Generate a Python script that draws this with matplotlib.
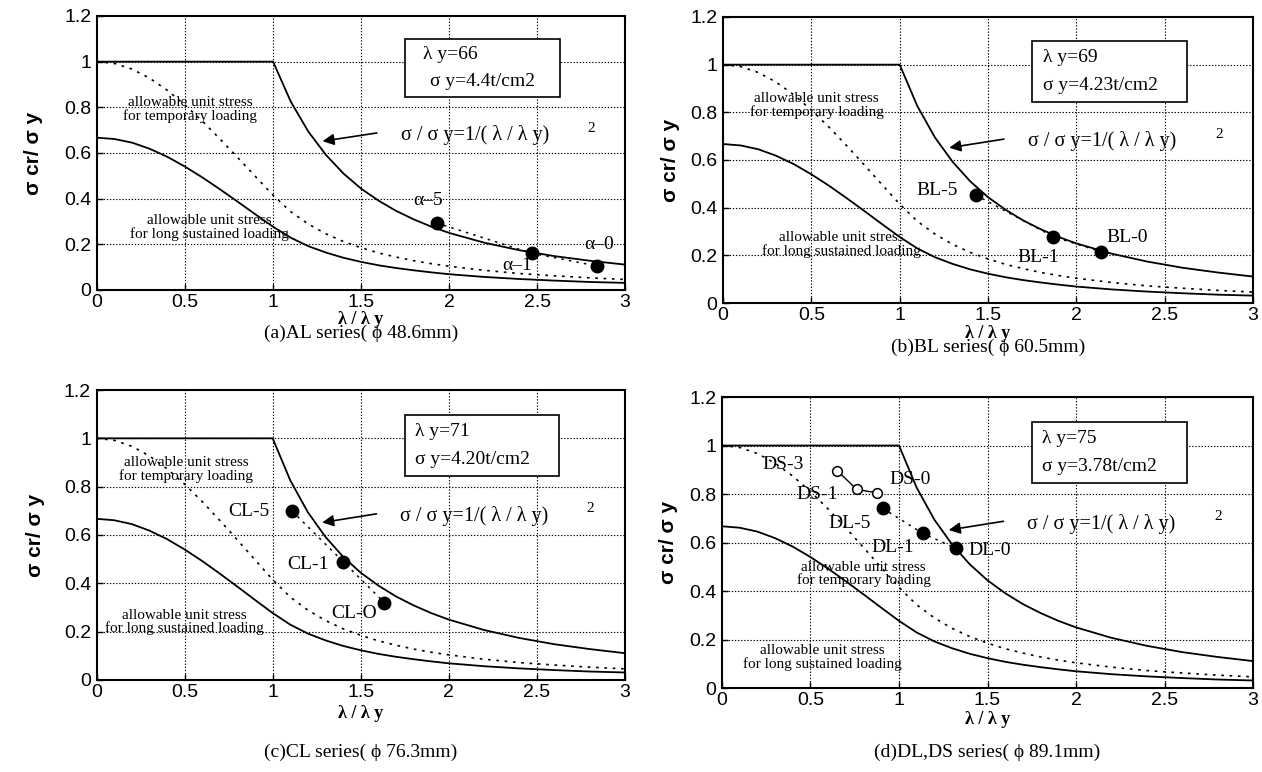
import matplotlib
matplotlib.use("Agg")
import matplotlib.pyplot as plt
from matplotlib.patches import Rectangle

# normalised slenderness λ/λy where the design curves were read
lam = [0.0, 0.1, 0.2, 0.3, 0.4, 0.5, 0.6, 0.7, 0.8, 0.9, 1.0,
       1.1, 1.2, 1.3, 1.4, 1.5, 1.6, 1.7, 1.8, 1.9, 2.0,
       2.2, 2.4, 2.6, 2.8, 3.0]
# Euler curve σ/σy = 1/(λ/λy)^2, capped at 1
euler = [1.0, 1.0, 1.0, 1.0, 1.0, 1.0, 1.0, 1.0, 1.0, 1.0, 1.0,
         0.826, 0.694, 0.592, 0.510, 0.444, 0.391, 0.346, 0.309, 0.277, 0.250,
         0.207, 0.174, 0.148, 0.128, 0.111]
# allowable unit stress, temporary loading (dashed)
temporary = [1.000, 0.992, 0.967, 0.927, 0.874, 0.810, 0.738, 0.660, 0.579, 0.497, 0.415,
             0.343, 0.289, 0.246, 0.212, 0.185, 0.162, 0.144, 0.128, 0.115, 0.104,
             0.086, 0.072, 0.062, 0.053, 0.046]
# allowable unit stress, long sustained loading (solid)
sustained = [0.667, 0.661, 0.645, 0.618, 0.583, 0.540, 0.492, 0.440, 0.386, 0.331, 0.277,
             0.229, 0.192, 0.164, 0.141, 0.123, 0.108, 0.096, 0.086, 0.077, 0.069,
             0.057, 0.048, 0.041, 0.035, 0.031]

# test results
al_names = ["α–5", "α–1", "α–0"]
al_x = [1.93, 2.47, 2.84]
al_y = [0.293, 0.161, 0.105]

bl_names = ["BL-5", "BL-1", "BL-0"]
bl_x = [1.43, 1.87, 2.14]
bl_y = [0.453, 0.278, 0.215]

cl_names = ["CL-5", "CL-1", "CL-O"]
cl_x = [1.11, 1.40, 1.635]
cl_y = [0.699, 0.490, 0.320]

dl_names = ["DL-5", "DL-1", "DL-0"]
dl_x = [0.908, 1.134, 1.322]
dl_y = [0.741, 0.638, 0.576]

ds_names = ["DS-3", "DS-1", "DS-0"]
ds_x = [0.652, 0.761, 0.874]
ds_y = [0.896, 0.819, 0.805]

lam_y = ["66", "69", "71", "75"]
sig_y = ["4.4", "4.23", "4.20", "3.78"]
captions = ["(a)AL series( ϕ 48.6mm)", "(b)BL series( ϕ 60.5mm)",
            "(c)CL series( ϕ 76.3mm)", "(d)DL,DS series( ϕ 89.1mm)"]

xticks = [0, 0.5, 1, 1.5, 2, 2.5, 3]
xticklabels = ["0", "0.5", "1", "1.5", "2", "2.5", "3"]
yticks = [0, 0.2, 0.4, 0.6, 0.8, 1.0, 1.2]
yticklabels = ["0", "0.2", "0.4", "0.6", "0.8", "1", "1.2"]

SERIF = ["Liberation Serif", "DejaVu Serif"]
SANS = ["Liberation Sans", "DejaVu Sans"]
DOT = (0, (1.6, 3.4))

fig = plt.figure(figsize=(12.62, 7.72), dpi=100)
rects = [(0.0769, 0.6244, 0.4184, 0.3549),
         (0.5729, 0.6075, 0.4200, 0.3705),
         (0.0766, 0.1192, 0.4184, 0.3756),
         (0.5721, 0.1088, 0.4208, 0.3769)]
axes = [fig.add_axes(r) for r in rects]

# where the two "allowable unit stress" notes sit (data coords)
temp_note = [(0.53, 0.79), (0.53, 0.83), (0.51, 0.87), (0.80, 0.47)]
long_note = [(0.64, 0.275), (0.67, 0.245), (0.50, 0.24), (0.565, 0.125)]
# label placement (axes fraction)
ylabel_x = [-0.102, -0.081, -0.098, -0.083]
xlabel_y = [-0.075, -0.077, -0.086, -0.079]
caption_y = [-0.125, -0.124, -0.22, -0.192]

for i, ax in enumerate(axes):
    ax.set_xlim(0, 3)
    ax.set_ylim(0, 1.2)
    for gx in xticks[1:-1]:
        ax.axvline(gx, color="black", lw=0.8, ls=(0, (1.2, 1.6)), zorder=0)
    for gy in yticks[1:-1]:
        ax.axhline(gy, color="black", lw=0.8, ls=(0, (1.2, 1.6)), zorder=0)
    ax.plot(lam, euler, color="black", lw=1.3)
    ax.plot(lam, temporary, color="black", lw=1.2, ls=DOT)
    ax.plot(lam, sustained, color="black", lw=1.3)

    ax.set_xticks(xticks)
    ax.set_xticklabels(xticklabels, family=SANS, fontsize=14)
    ax.set_yticks(yticks)
    ax.set_yticklabels(yticklabels, family=SANS, fontsize=14)
    ax.tick_params(direction="in", length=4, width=1, pad=4)
    ax.tick_params(axis="x", pad=3)
    for sp in ax.spines.values():
        sp.set_linewidth(1.5)

    ax.set_ylabel("σ cr/ σ y", fontsize=15, fontweight="bold", family=SANS)
    ax.yaxis.set_label_coords(ylabel_x[i], 0.5)
    ax.text(0.5, xlabel_y[i], "λ / λ y", transform=ax.transAxes, ha="center", va="top",
            fontsize=13, fontweight="bold", family=SERIF)
    ax.text(0.5, caption_y[i], captions[i], transform=ax.transAxes, ha="center", va="top",
            fontsize=14, family=SERIF)

    tx, ty = temp_note[i]
    ax.text(tx, ty, "allowable unit stress\nfor temporary loading", ha="center", va="center",
            fontsize=11, family=SERIF, linespacing=1.0)
    lx, ly = long_note[i]
    ax.text(lx, ly, "allowable unit stress\nfor long sustained loading", ha="center", va="center",
            fontsize=11, family=SERIF, linespacing=1.0)

    # parameter box
    ax.add_patch(Rectangle((0.583, 0.703), 0.293, 0.212, transform=ax.transAxes,
                           facecolor="white", edgecolor="black", lw=1.2, zorder=5))
    x1, x2 = (0.617, 0.631) if i == 0 else (0.603, 0.603)
    ax.text(x1, 0.858, f"λ y={lam_y[i]}", transform=ax.transAxes, va="center",
            fontsize=14, family=SERIF, zorder=6)
    ax.text(x2, 0.76, f"σ y={sig_y[i]}t/cm2", transform=ax.transAxes, va="center",
            fontsize=14, family=SERIF, zorder=6)

    # Euler formula with arrow
    ax.text(0.575, 0.565, "σ / σ y=1/( λ / λ y)", transform=ax.transAxes, va="center",
            fontsize=14.5, family=SERIF)
    ax.text(0.928, 0.59, "2", transform=ax.transAxes, va="center", fontsize=11, family=SERIF)
    ax.annotate("", xy=(0.427, 0.543), xytext=(0.53, 0.573), xycoords="axes fraction",
                arrowprops=dict(arrowstyle="-|>", color="black", lw=1.2, mutation_scale=17,
                                shrinkA=0, shrinkB=0))


def points(ax, xs, ys, names, spots, open_marker=False):
    if open_marker:
        ax.plot(xs, ys, color="black", lw=1.0)
        ax.plot(xs, ys, "o", ms=7, mfc="white", mec="black", mew=1.1, ls="none", zorder=4)
    else:
        ax.plot(xs, ys, color="black", lw=1.1, ls=DOT)
        ax.plot(xs, ys, "o", ms=9, color="black", ls="none", zorder=4)
    for name, (px, py) in zip(names, spots):
        ax.text(px, py, name, ha="center", va="center", fontsize=14, family=SERIF, zorder=4)


points(axes[0], al_x, al_y, al_names, [(1.88, 0.39), (2.385, 0.105), (2.85, 0.198)])
points(axes[1], bl_x, bl_y, bl_names, [(1.21, 0.474), (1.785, 0.19), (2.285, 0.276)])
points(axes[2], cl_x, cl_y, cl_names, [(0.866, 0.696), (1.20, 0.476), (1.46, 0.276)])
points(axes[3], dl_x, dl_y, dl_names, [(0.723, 0.68), (0.966, 0.581), (1.514, 0.569)])
points(axes[3], ds_x, ds_y, ds_names, [(0.345, 0.92), (0.54, 0.796), (1.06, 0.858)],
       open_marker=True)

fig.savefig("out.png", dpi=100)
